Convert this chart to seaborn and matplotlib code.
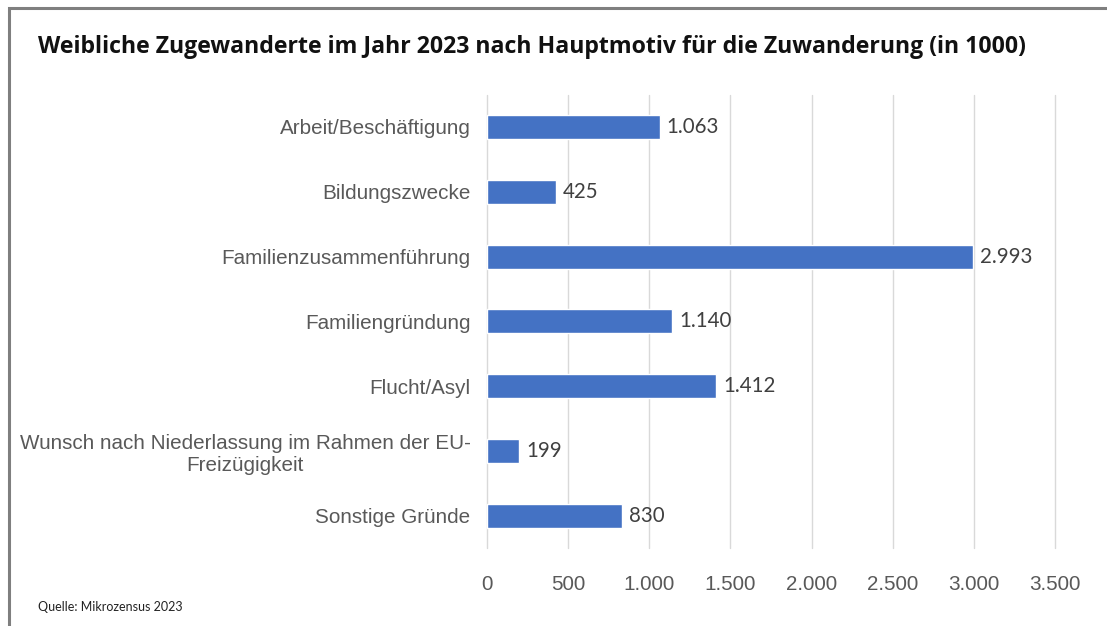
import pandas as pd
import matplotlib.pyplot as plt
import seaborn as sns
from matplotlib.patches import Rectangle
from matplotlib.ticker import FuncFormatter

# Daten (in 1000)
motive = [
    "Arbeit/Beschäftigung",
    "Bildungszwecke",
    "Familienzusammenführung",
    "Familiengründung",
    "Flucht/Asyl",
    "Wunsch nach Niederlassung im Rahmen der EU-\nFreizügigkeit",
    "Sonstige Gründe",
]
werte = [1063, 425, 2993, 1140, 1412, 199, 830]
achsen_ticks = [0, 500, 1000, 1500, 2000, 2500, 3000, 3500]

df = pd.DataFrame({"motiv": motive, "wert": werte})


def de_format(v):
    return f"{int(v):,}".replace(",", ".")


sns.set_theme(style="white")
plt.rcParams["font.family"] = ["Liberation Sans", "DejaVu Sans"]

fig = plt.figure(figsize=(11.07, 6.26), dpi=100)
ax = fig.add_axes([0.44, 0.124, 0.513, 0.725])

sns.barplot(data=df, x="wert", y="motiv", color="#4472C4", width=0.37,
            saturation=1, ax=ax, zorder=3)

ax.set_xlim(0, 3500)
ax.set_xticks(achsen_ticks)
ax.xaxis.set_major_formatter(FuncFormatter(lambda v, p: de_format(v)))
ax.grid(axis="x", color="#D9D9D9", linewidth=1, zorder=0)
for gl in ax.get_xgridlines():
    gl.set_clip_on(False)
for s in ax.spines.values():
    s.set_visible(False)
ax.set_xlabel("")
ax.set_ylabel("")
ax.tick_params(axis="y", length=0, pad=12, labelsize=14.85, labelcolor="#595959")
ax.tick_params(axis="x", length=0, pad=19, labelsize=14.85, labelcolor="#595959")
for lab in ax.get_yticklabels():
    lab.set_multialignment("center")

for i, v in enumerate(werte):
    ax.annotate(de_format(v), (v, i), xytext=(5, 0), textcoords="offset points",
                va="center", ha="left", fontsize=14.8, color="#404040",
                family=["Lato", "DejaVu Sans"])

fig.text(0.034, 0.925, "Weibliche Zugewanderte im Jahr 2023 nach Hauptmotiv für die Zuwanderung (in 1000)",
         fontsize=16.7, fontweight="bold", color="#111111", family=["Open Sans", "DejaVu Sans"],
         va="center", ha="left")
fig.text(0.034, 0.030, "Quelle: Mikrozensus 2023", fontsize=9, color="#222222",
         family=["Lato", "DejaVu Sans"], va="center", ha="left")

# Rahmen
fig.patches.append(Rectangle((9 / 1107, -0.1), 1.2, 1.1 - 8 / 626, transform=fig.transFigure,
                             fill=False, edgecolor="#7F7F7F", linewidth=2.2))

fig.savefig("out.png", dpi=100)
